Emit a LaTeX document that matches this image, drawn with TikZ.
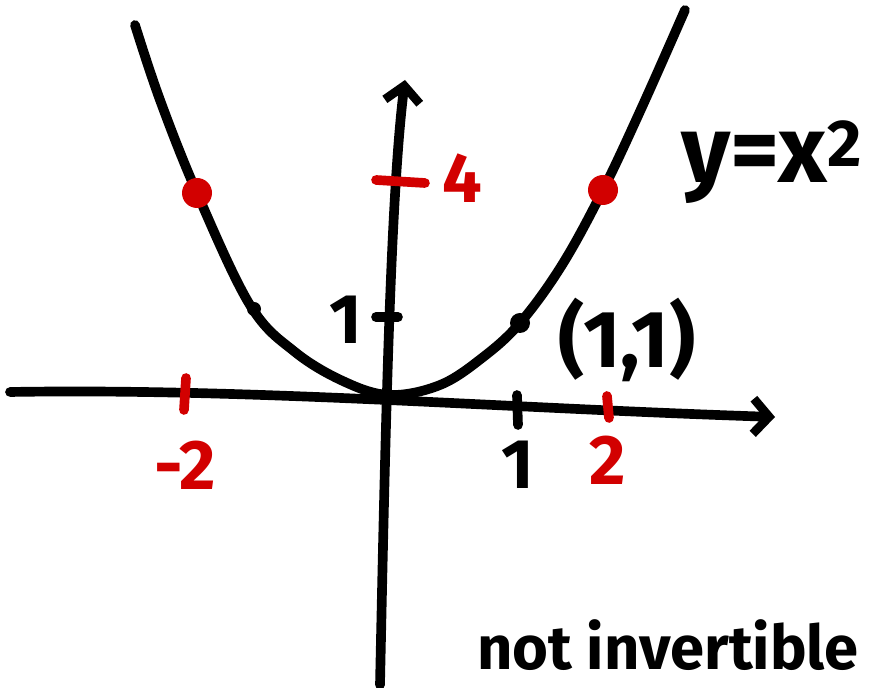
\documentclass[tikz,border=0pt]{standalone}
\usepackage{fontspec}
\setmainfont{Fira Sans}
\usetikzlibrary{arrows.meta}
\definecolor{pen}{RGB}{0,0,0}
\definecolor{redpen}{RGB}{210,0,0}
\begin{document}
\begin{tikzpicture}[x=0.02cm, y=-0.02cm,
  stroke/.style={line width=5.5pt, line cap=round, line join=round, draw=pen},
  redstroke/.style={stroke, draw=redpen},
  axis/.style={stroke, -{Straight Barb[length=9pt, width=20pt, line width=5pt]}},
  lbl/.style={font=\fontsize{40}{44}\selectfont\bfseries, inner sep=0pt, text=pen},
  redlbl/.style={lbl, text=redpen}]

  \useasboundingbox (0,0) rectangle (873,688);

  % axes
  \coordinate (xl) at (10,392);
  \coordinate (xr) at (775,417);
  \coordinate (yb) at (380,685);
  \coordinate (yt) at (405,80);
  \draw[axis] (xl) .. controls (250,388) and (500,408) .. (xr);
  \draw[axis] (yb) .. controls (385,450) and (390,200) .. (yt);

  % ticks
  \draw[redstroke] (186,378) -- (184,410);
  \draw[stroke] (517,395) -- (518,425);
  \draw[redstroke] (607,396) -- (609,418);
  \draw[stroke] (376,317) -- (398,317);
  \draw[redstroke] (376,180) -- (425,183);

  % tick labels
  \node[redlbl] (m2) at (185,465) {-2};
  \node[lbl] (one) at (518,465) {1};
  \node[redlbl] (two) at (608,460) {2};
  \node[lbl] (yone) at (346,320) {1};
  \node[redlbl] (four) at (462,178) {4};

  % parabola
  \draw[stroke] plot[smooth, tension=0.6] coordinates {
    (135,25) (160,100) (197,193) (250,305) (295,352) (345,382)
    (390,395) (440,385) (482,358) (520,323) (562,265) (603,190)
    (642,107) (685,10)};

  % points
  \fill[redpen] (197,193) circle (15);
  \fill[redpen] (603,190) circle (15);
  \fill[pen] (520,323) circle (10);
  \fill[pen] (254,309) circle (7);

  % labels
  \node[lbl, font=\fontsize{46}{50}\selectfont\bfseries] (pt) at (627,340) {(1,1)};
  \node[lbl, font=\fontsize{54}{58}\selectfont\bfseries] (eq) at (772,162) {y=x\textsuperscript{2}};
  \node[lbl, font=\fontsize{35}{40}\selectfont\bfseries] (note) at (668,645) {not invertible};
\end{tikzpicture}
\end{document}
